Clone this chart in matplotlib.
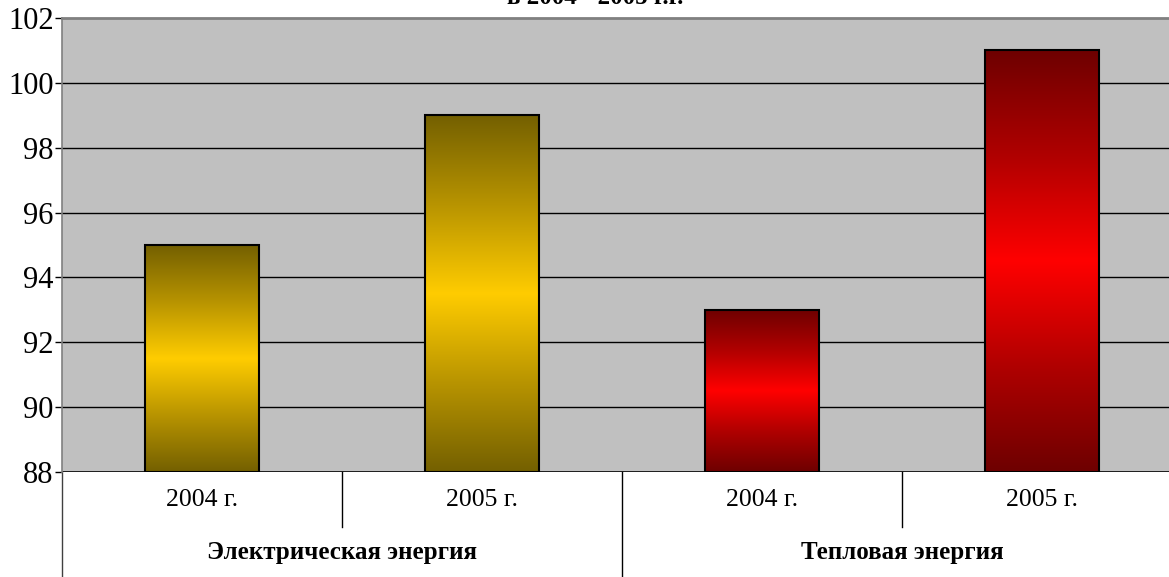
import matplotlib
matplotlib.use("Agg")
import matplotlib.pyplot as plt
import numpy as np
from matplotlib.colors import LinearSegmentedColormap
import matplotlib.transforms as mtransforms

years = ["2004 г.", "2005 г.", "2004 г.", "2005 г."]
groups = ["Электрическая энергия", "Тепловая энергия"]
values = [95, 99, 93, 101]
title = "в 2004 - 2005 г.г."
yticks = [88, 90, 92, 94, 96, 98, 100, 102]

W, H = 1169, 577
fig = plt.figure(figsize=(W / 100, H / 100), dpi=100)
plt.rcParams['font.family'] = ['Liberation Serif', 'DejaVu Serif']

left_px, right_px, top_px, bot_px = 62, 1182, 18, 472
ax = fig.add_axes([left_px / W, (H - bot_px) / H, (right_px - left_px) / W, (bot_px - top_px) / H])
ax.set_facecolor("#C0C0C0")
ax.set_xlim(0, 4)
ax.set_ylim(88, 102)

ax.set_yticks(yticks)
ax.set_yticklabels([str(t) for t in yticks], fontsize=22)
ax.tick_params(axis='y', length=5, width=1, color='black', pad=1, direction='out')
ax.set_xticks([])
for yv in yticks[1:-1]:
    ax.axhline(yv, color='black', lw=1, zorder=1)
ax.axhline(88, color='black', lw=1.2, zorder=1)

for s in ['right', 'bottom']:
    ax.spines[s].set_visible(False)
ax.spines['top'].set_color('#808080')
ax.spines['top'].set_linewidth(2)
ax.spines['left'].set_color('#808080')
ax.spines['left'].set_linewidth(1.2)

cmaps = [
    LinearSegmentedColormap.from_list("y", ["#746000", "#B89400", "#FFCC00", "#B89400", "#746000"]),
    LinearSegmentedColormap.from_list("r", ["#6E0000", "#B00000", "#FF0000", "#B00000", "#6E0000"]),
]
bw = 0.41
xs = np.arange(len(values)) + 0.5
bars = ax.bar(xs, [v - 88 for v in values], bottom=88, width=bw, facecolor='none',
              edgecolor='black', lw=1.5, zorder=3)
grad = np.linspace(0, 1, 256).reshape(-1, 1)
for i, (b, v) in enumerate(zip(bars, values)):
    cm = cmaps[0] if i < 2 else cmaps[1]
    x0 = b.get_x()
    im = ax.imshow(grad, cmap=cm, aspect='auto', extent=[x0, x0 + bw, 88, v],
                   origin='lower', zorder=2, interpolation='bilinear')
    im.set_clip_path(b)
ax.set_xlim(0, 4)
ax.set_ylim(88, 102)

trans = mtransforms.blended_transform_factory(ax.transData, ax.transAxes)
h_ax = bot_px - top_px
y_short = -(527 - bot_px) / h_ax
y_long = -(577 - bot_px) / h_ax
for xv in [1, 3]:
    ax.plot([xv, xv], [0, y_short], color='black', lw=1, transform=trans, clip_on=False)
for xv in [0, 2]:
    ax.plot([xv, xv], [0, y_long], color='#404040' if xv == 0 else 'black', lw=1,
            transform=trans, clip_on=False)

y_year = -(500 - bot_px) / h_ax
y_grp = -(553 - bot_px) / h_ax
for x, lab in zip(xs, years):
    ax.text(x, y_year, lab, transform=trans, ha='center', va='center', fontsize=18.5)
for gi, g in enumerate(groups):
    ax.text(1 + 2 * gi, y_grp, g, transform=trans, ha='center', va='center',
            fontsize=18, fontweight='bold')

fig.text(595 / W, 1 - 4 / H, title, ha='center', va='baseline', fontsize=18,
         fontweight='bold')

fig.savefig("out.png", dpi=100)
